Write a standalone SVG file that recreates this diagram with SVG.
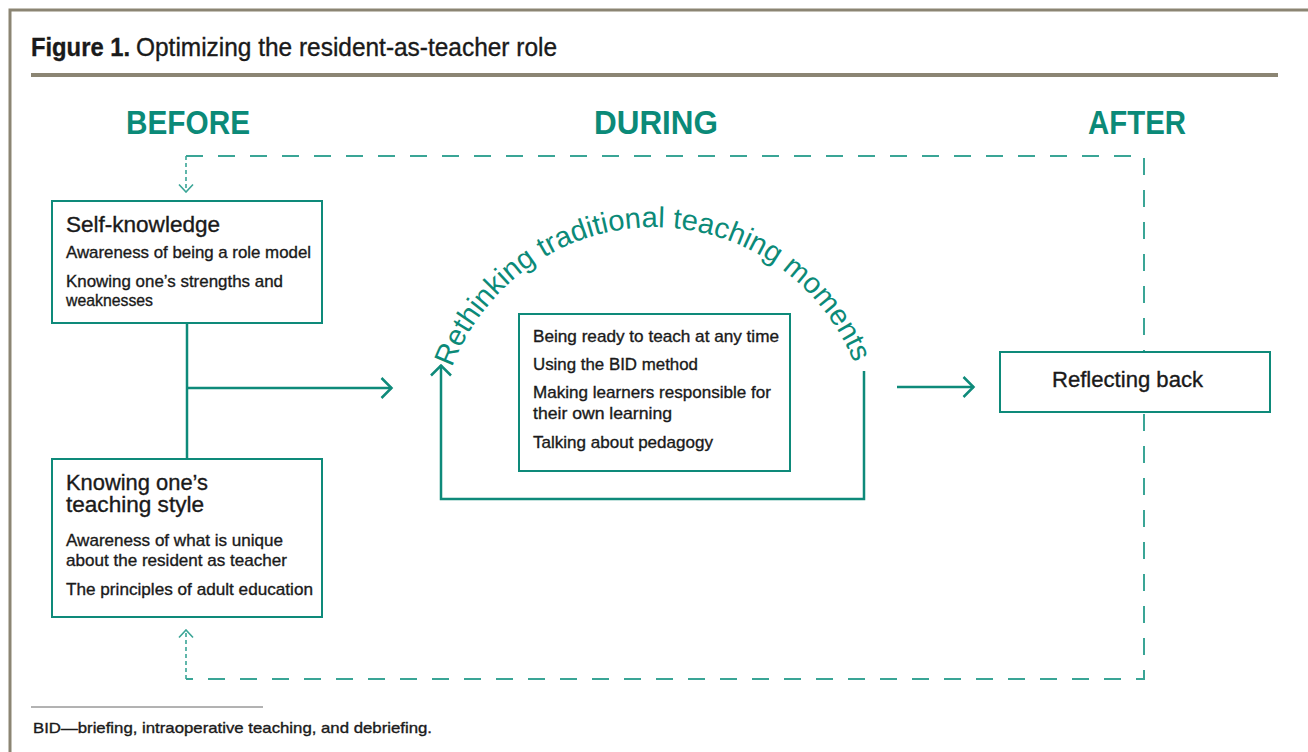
<svg xmlns="http://www.w3.org/2000/svg" width="1308" height="752" viewBox="0 0 1308 752">
<style>
.t{font-family:"Liberation Sans",Arial,sans-serif;fill:#1a1a1a;stroke:#1a1a1a;stroke-width:0.35}
.h{font-family:"Liberation Sans",Arial,sans-serif;font-weight:bold;fill:#0b8a78;font-size:33px}
.box{fill:#fff;stroke:#0e8a7a;stroke-width:2}
.b{font-size:17px}
.hd{font-size:21.5px}
.ln{fill:none;stroke:#0e8a7a;stroke-width:2.5}
.dl{fill:none;stroke:#3aa596;stroke-width:2;stroke-dasharray:17 15}
.ds{fill:none;stroke:#3aa596;stroke-width:1.6;stroke-dasharray:4 3}
</style>
<defs>
<marker id="arr" markerUnits="userSpaceOnUse" viewBox="0 0 14 22" refX="12.5" refY="11" markerWidth="14" markerHeight="22" orient="auto">
<path d="M2,1 L12,11 L2,21" fill="none" stroke="#0e8a7a" stroke-width="2.5"/>
</marker>
<marker id="arrd" markerUnits="userSpaceOnUse" viewBox="0 0 10 16" refX="9" refY="8" markerWidth="10" markerHeight="16" orient="auto">
<path d="M1.5,1 L9,8 L1.5,15" fill="none" stroke="#3aa596" stroke-width="1.6"/>
</marker>
<path id="arc" d="M445.4,388.6 A216,218 0 0 1 862.6,388.6"/>
</defs>
<rect x="0" y="0" width="1308" height="752" fill="#fff"/>
<rect x="10" y="10" width="1400" height="800" fill="none" stroke="#8b8573" stroke-width="3"/>
<g id="title">
<text class="t" x="31" y="56" font-size="25" stroke-width="0.2"><tspan font-weight="bold" textLength="99" lengthAdjust="spacingAndGlyphs">Figure 1.</tspan><tspan x="136" textLength="421" lengthAdjust="spacingAndGlyphs">Optimizing the resident-as-teacher role</tspan></text>
<line x1="31" y1="75" x2="1278" y2="75" stroke="#8b8573" stroke-width="4"/>
</g>
<g id="headings">
<text class="h" x="126" y="134" textLength="124" lengthAdjust="spacingAndGlyphs">BEFORE</text>
<text class="h" x="594" y="134" textLength="124" lengthAdjust="spacingAndGlyphs">DURING</text>
<text class="h" x="1088" y="134" textLength="98" lengthAdjust="spacingAndGlyphs">AFTER</text>
</g>
<g id="connectors">
<path class="dl" d="M186,156 H1144 V679 H186"/>
<path class="ds" d="M186,156 V192" marker-end="url(#arrd)"/>
<path class="ds" d="M186,679 V630" marker-end="url(#arrd)"/>
<path class="ln" d="M187,323 V459"/>
<path class="ln" d="M187,388 H392" marker-end="url(#arr)"/>
<path class="ln" d="M864,371 V499 H441 V365" marker-end="url(#arr)"/>
<path class="ln" d="M897,387 H974" marker-end="url(#arr)"/>
</g>
<g id="self-knowledge">
<rect class="box" x="52" y="201" width="270" height="122"/>
<text class="t hd" x="66" y="232" textLength="154" lengthAdjust="spacingAndGlyphs">Self-knowledge</text>
<text class="t b" x="66" y="258" textLength="245" lengthAdjust="spacingAndGlyphs">Awareness of being a role model</text>
<text class="t b" x="66" y="287" textLength="217" lengthAdjust="spacingAndGlyphs">Knowing one’s strengths and</text>
<text class="t b" x="66" y="306" textLength="87" lengthAdjust="spacingAndGlyphs">weaknesses</text>
</g>
<g id="teaching-style">
<rect class="box" x="52" y="459" width="270" height="158"/>
<text class="t hd" x="66" y="490" textLength="142" lengthAdjust="spacingAndGlyphs">Knowing one’s</text>
<text class="t hd" x="66" y="512" textLength="138" lengthAdjust="spacingAndGlyphs">teaching style</text>
<text class="t b" x="66" y="546" textLength="217" lengthAdjust="spacingAndGlyphs">Awareness of what is unique</text>
<text class="t b" x="66" y="566" textLength="221" lengthAdjust="spacingAndGlyphs">about the resident as teacher</text>
<text class="t b" x="66" y="595" textLength="247" lengthAdjust="spacingAndGlyphs">The principles of adult education</text>
</g>
<g id="rethinking">
<text font-family="Liberation Sans,Arial,sans-serif" font-size="29" fill="#0b8a78"><textPath href="#arc" startOffset="22" textLength="518" lengthAdjust="spacingAndGlyphs">Rethinking traditional teaching moments</textPath></text>
<rect class="box" x="519" y="314" width="271" height="157"/>
<text class="t b" x="533" y="342" textLength="246" lengthAdjust="spacingAndGlyphs">Being ready to teach at any time</text>
<text class="t b" x="533" y="370" textLength="165" lengthAdjust="spacingAndGlyphs">Using the BID method</text>
<text class="t b" x="533" y="398" textLength="238" lengthAdjust="spacingAndGlyphs">Making learners responsible for</text>
<text class="t b" x="533" y="419" textLength="139" lengthAdjust="spacingAndGlyphs">their own learning</text>
<text class="t b" x="533" y="448" textLength="180" lengthAdjust="spacingAndGlyphs">Talking about pedagogy</text>
</g>
<g id="reflecting-back">
<rect class="box" x="1000" y="352" width="270" height="60"/>
<text class="t hd" x="1052" y="387" textLength="151" lengthAdjust="spacingAndGlyphs">Reflecting back</text>
</g>
<g id="footnote">
<line x1="31" y1="707" x2="263" y2="707" stroke="#666" stroke-width="1"/>
<text class="t" x="33" y="733" font-size="15" stroke-width="0.15" textLength="399" lengthAdjust="spacingAndGlyphs">BID—briefing, intraoperative teaching, and debriefing.</text>
</g>
</svg>
